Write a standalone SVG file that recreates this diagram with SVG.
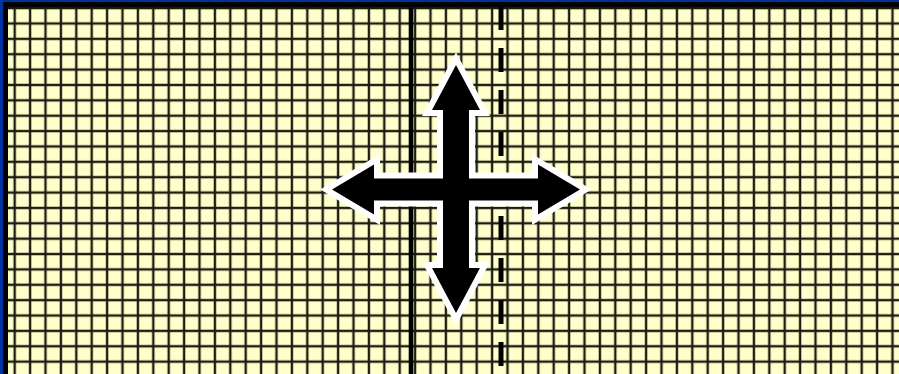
<svg xmlns="http://www.w3.org/2000/svg" width="899" height="374" viewBox="0 0 899 374">
  <defs>
    <pattern id="grid" patternUnits="userSpaceOnUse" x="7" y="15.8" width="15.4" height="15.37">
      <rect x="0" y="0" width="15.4" height="15.37" fill="#FFFFCC"/>
      <line x1="7.7" y1="0" x2="7.7" y2="15.37" stroke="#1c1c12" stroke-width="2.4"/>
      <line x1="0" y1="7.7" x2="15.4" y2="7.7" stroke="#1c1c12" stroke-width="2.4"/>
    </pattern>
  </defs>
  <style>
    .solid { stroke:#000; stroke-width:4.6; }
    .dash { stroke:#000; stroke-width:5; stroke-dasharray:24 18; }
    .arrow { fill:#000; stroke:#fff; stroke-width:12; stroke-linejoin:miter; stroke-miterlimit:10; paint-order:stroke; }
  </style>
  <g id="background">
    <rect x="0" y="0" width="899" height="374" fill="url(#grid)"/>
    <rect x="0" y="0" width="899" height="7.5" fill="#000"/>
    <rect x="0" y="0" width="8" height="374" fill="#000"/>
    <rect x="0" y="0" width="899" height="2" fill="#0033A0"/>
    <rect x="0" y="0" width="3.3" height="374" fill="#0033A0"/>
  </g>
  <g id="lines">
    <line class="solid" x1="411" y1="7.5" x2="411" y2="374"/>
    <line class="dash" x1="501" y1="6" x2="501" y2="374"/>
  </g>
  <g id="cross-arrow">
    <polygon class="arrow" points="456,65 480,110 469,110 469,178.5 538,178.5 538,164.5 580,189.5 538,214.5 538,200.5 469,200.5 469,268 480,268 456,313 432,268 443,268 443,200.5 374,200.5 374,214.5 332,189.5 374,164.5 374,178.5 443,178.5 443,110 432,110"/>
  </g>
</svg>
